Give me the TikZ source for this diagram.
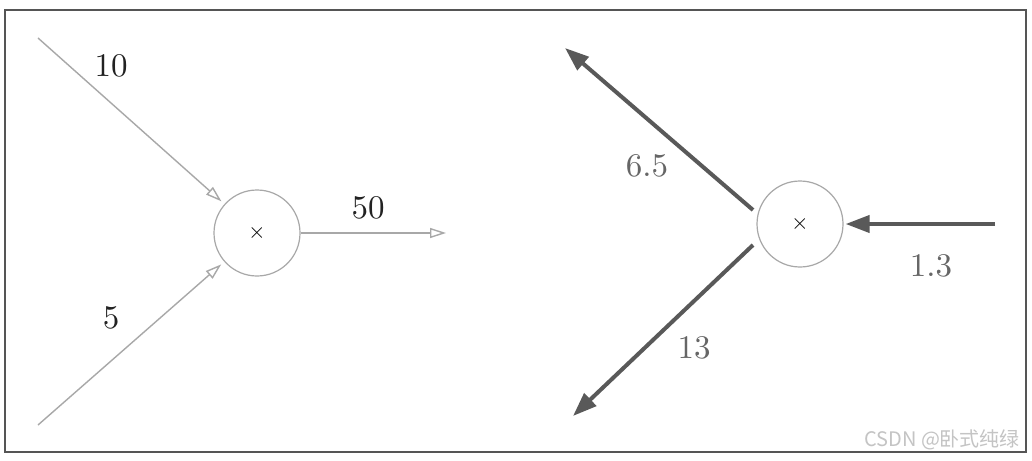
\documentclass[tikz,border=0pt]{standalone}
\usepackage{fontspec}
\newfontfamily\lmten{lmroman10-regular.otf}
\newfontfamily\cjkwm{Noto Sans CJK SC}
\usetikzlibrary{arrows.meta}
\definecolor{lightln}{HTML}{A8A8A8}
\definecolor{darkln}{HTML}{595959}
\definecolor{lbldark}{HTML}{222222}
\definecolor{lblgray}{HTML}{666666}
\definecolor{wmgray}{HTML}{C4C4C4}
\definecolor{framec}{HTML}{555555}
\begin{document}
\begin{tikzpicture}[x=0.5pt,y=-0.5pt,
  opnode/.style={circle,draw=lightln,line width=0.6pt,minimum size=43pt,inner sep=0pt,font=\lmten\fontsize{11}{12}\selectfont},
  fwd/.style={draw=lightln,line width=0.7pt,-{Triangle[open,length=8pt,width=5pt]}},
  bwd/.style={draw=darkln,line width=2pt,-{Triangle[length=12pt,width=8.5pt]}},
  lblL/.style={text=lbldark,font=\lmten\fontsize{16.5}{18}\selectfont},
  lblR/.style={text=lblgray,font=\lmten\fontsize{16.5}{18}\selectfont}]
\useasboundingbox (0,0) rectangle (1032,460);
\fill[white] (0,0) rectangle (1032,460);
\draw[framec,line width=0.8pt] (5,10) rectangle (1026,452);
% left: forward
\node[opnode] (c1) at (257,233) {×};
\coordinate (a1) at (38,38);
\coordinate (a2) at (38,425);
\coordinate (o1) at (446,233);
\draw[fwd,shorten >=2pt] (a1) -- (c1);
\draw[fwd,shorten >=2pt] (a2) -- (c1);
\draw[fwd] (c1) -- (o1);
\node[lblL] (l10) at (111,66) {10};
\node[lblL] (l5) at (111,318) {5};
\node[lblL] (l50) at (368,208) {50};
% right: backward
\node[opnode] (c2) at (800,224) {×};
\coordinate (s1) at (753,210);
\coordinate (e1) at (565,48);
\coordinate (s2) at (753,245);
\coordinate (e2) at (573,416);
\coordinate (s3) at (995,224);
\draw[bwd] (s1) -- (e1);
\draw[bwd] (s2) -- (e2);
\draw[bwd,shorten >=1pt] (s3) -- (c2);
\node[lblR] (l65) at (647,166) {6.5};
\node[lblR] (l13) at (694,348) {13};
\node[lblR] (l13b) at (931,266) {1.3};
\node[text=wmgray,font=\cjkwm\fontsize{10}{12}\selectfont,anchor=east] (wm) at (1027,440) {CSDN @卧式纯绿};
\end{tikzpicture}
\end{document}
